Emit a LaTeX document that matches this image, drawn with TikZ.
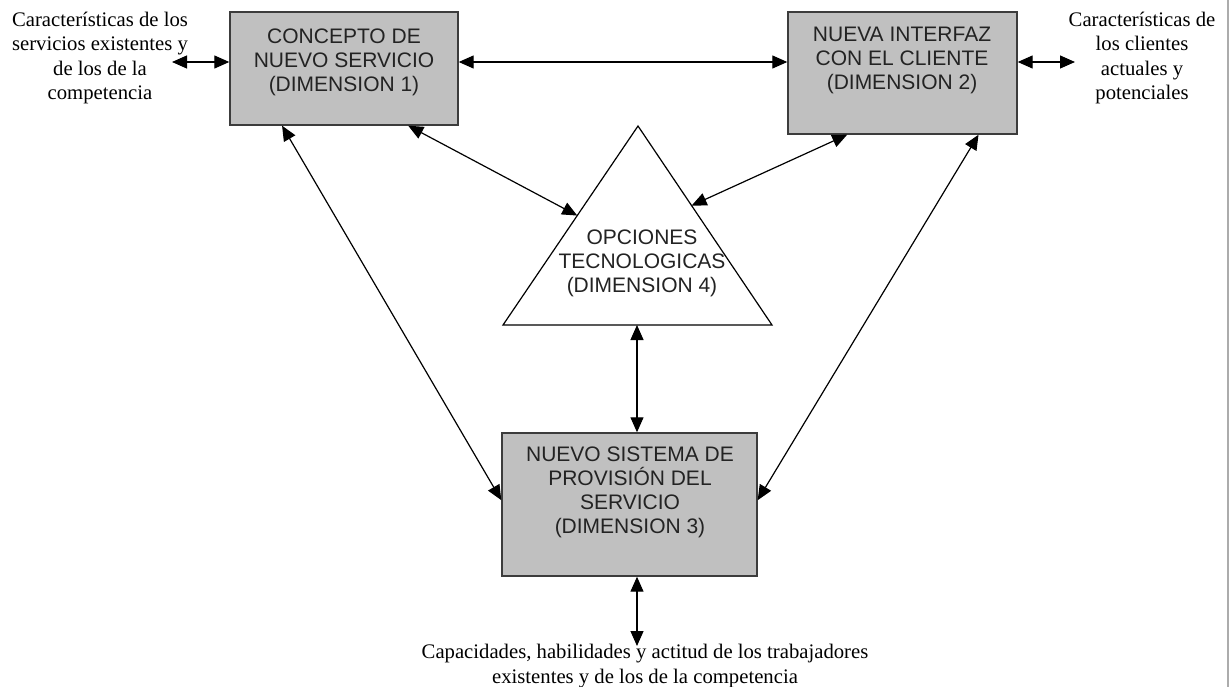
\documentclass[tikz,border=0pt]{standalone}
\usepackage{fontspec}
\setmainfont{Liberation Serif}
\newfontfamily\arialf{Liberation Sans}
\usetikzlibrary{arrows.meta,calc}
\definecolor{boxgray}{RGB}{192,192,192}
\definecolor{boxedge}{RGB}{60,60,60}
\definecolor{txtgray}{RGB}{35,35,35}
\begin{document}
\begin{tikzpicture}[x=1pt,y=-1pt,
  dimbox/.style={draw=boxedge,fill=boxgray,line width=1.4pt,inner sep=0pt},
  boxtext/.style={font=\arialf\fontsize{21}{24}\selectfont,text=txtgray,align=center,inner sep=0pt},
  sidetext/.style={font=\fontsize{20.7}{24.5}\selectfont,align=center,inner sep=0pt},
  link/.style={line width=1.2pt,{Triangle[length=15pt,width=13pt]}-{Triangle[length=15pt,width=13pt]}}]
\useasboundingbox (0,0) rectangle (1231,687);
\fill[white] (0,0) rectangle (1231,687);
\draw[gray!65,line width=2pt] (1228,0) -- (1228,687);

% boxes
\node[dimbox,minimum width=228pt,minimum height=113pt] (b1) at (344,68.5) {};
\node[dimbox,minimum width=229pt,minimum height=122pt] (b2) at (902.5,73) {};
\node[dimbox,minimum width=255pt,minimum height=143pt] (b3) at (629.5,504.5) {};
\node[boxtext] (b1t) at (344,62) {CONCEPTO DE\\NUEVO SERVICIO\\(DIMENSION 1)};
\node[boxtext] (b2t) at (902,60) {NUEVA INTERFAZ\\CON EL CLIENTE\\(DIMENSION 2)};
\node[boxtext] (b3t) at (630,492) {NUEVO SISTEMA DE\\PROVISIÓN DEL\\SERVICIO\\(DIMENSION 3)};

% triangle
\coordinate (tA) at (638,126);
\coordinate (tL) at (503,325);
\coordinate (tR) at (772,325);
\draw[line width=1.2pt,fill=white] (tA) -- (tL) -- (tR) -- cycle;
\node[boxtext] (tt) at (642,263) {OPCIONES\\TECNOLOGICAS\\(DIMENSION 4)};

% side texts
\node[sidetext] (lt) at (100,58) {Características de los\\servicios existentes y\\de los de la\\competencia};
\node[sidetext] (rt) at (1142,58) {Características de\\los clientes\\actuales y\\potenciales};
\node[sidetext] (bt) at (645,666) {Capacidades, habilidades y actitud de los trabajadores\\existentes y de los de la competencia};

% connector end coordinates
\coordinate (lta) at (172,62);
\coordinate (rta) at (1075,62);
\coordinate (bta) at (637,646);

% connectors
\draw[link] (lta) -- (b1.west |- lta);
\draw[link] (b1.east |- lta) -- (b2.west |- lta);
\draw[link] (b2.east |- rta) -- (rta);
\draw[link] ($(b1.south west)!0.78!(b1.south east)$) -- ($(tA)!0.45!(tL)$);
\draw[link] ($(b2.south west)!0.26!(b2.south east)$) -- ($(tA)!0.40!(tR)$);
\draw[link] ($(b1.south west)!0.23!(b1.south east)$) -- ($(b3.north west)!0.47!(b3.south west)$);
\draw[link] ($(b2.south west)!0.83!(b2.south east)$) -- ($(b3.north east)!0.47!(b3.south east)$);
\draw[link] (tL -| bta) -- (b3.north -| bta);
\draw[link] (b3.south -| bta) -- (bta);
\end{tikzpicture}
\end{document}
